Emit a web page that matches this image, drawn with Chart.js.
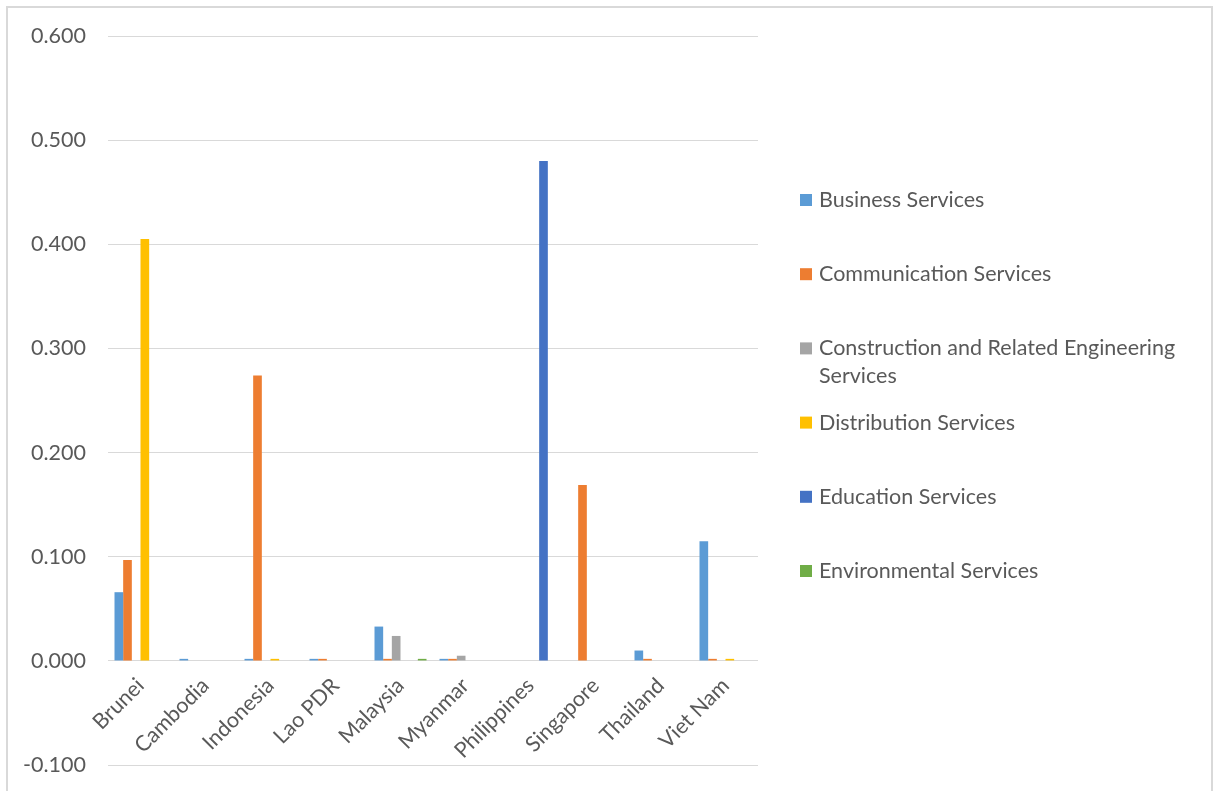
<!DOCTYPE html>
<html>
<head>
<meta charset="utf-8">
<script src="https://cdn.jsdelivr.net/npm/chart.js@4.4.1/dist/chart.umd.min.js"></script>
<style>
  html, body { margin: 0; padding: 0; background: #fff; overflow: hidden; }
  #wrap { position: relative; width: 1218px; height: 791px; overflow: hidden; }
  canvas { display: block; }
  #frame {
    position: absolute; left: 6px; top: 6px; width: 1203px; height: 800px;
    border: 2px solid #d9d9d9; border-bottom: none; pointer-events: none;
  }
</style>
</head>
<body>
<div id="wrap">
  <canvas id="myChart" width="1218" height="800"></canvas>
  <div id="frame"></div>
</div>
<script>
const countries = ['Brunei', 'Cambodia', 'Indonesia', 'Lao PDR', 'Malaysia', 'Myanmar', 'Philippines', 'Singapore', 'Thailand', 'Viet Nam'];

const business      = [0.066, 0.002, 0.002, 0.002, 0.033, 0.002, 0, 0, 0.010, 0.115];
const communication = [0.097, 0, 0.274, 0.002, 0.002, 0.002, 0, 0.169, 0.002, 0.002];
const construction  = [0, 0, 0, 0, 0.024, 0.005, 0, 0, 0, 0];
const distribution  = [0.405, 0, 0.002, 0, 0, 0, 0, 0, 0, 0.002];
const education     = [0, 0, 0, 0, 0, 0, 0.480, 0, 0, 0];
const environmental = [0, 0, 0, 0, 0.002, 0, 0, 0, 0, 0];

const seriesNames = ['Business Services', 'Communication Services', 'Construction and Related Engineering Services',
  'Distribution Services', 'Education Services', 'Environmental Services'];
const seriesColors = ['#5b9bd5', '#ed7d31', '#a5a5a5', '#ffc000', '#4472c4', '#70ad47'];

const yTicks = [-0.1, 0, 0.1, 0.2, 0.3, 0.4, 0.5, 0.6];

const FONT = 'Lato, "Open Sans", sans-serif';
const TEXT = '#595959';
const SIZE = 21.5;

const datasets = [business, communication, construction, distribution, education, environmental].map((d, i) => ({
  label: seriesNames[i],
  data: d,
  backgroundColor: seriesColors[i],
  borderWidth: 0,
  categoryPercentage: 0.8,
  barPercentage: 1.0
}));

// legend on the right, drawn by hand so the long entry can wrap
const sideLegend = {
  id: 'sideLegend',
  afterDraw(chart) {
    const ctx = chart.ctx;
    const x0 = 800, y0 = 200, step = 74.2, maxW = 380, lineH = 28;
    ctx.save();
    ctx.font = SIZE + 'px ' + FONT;
    ctx.textBaseline = 'middle';
    chart.data.datasets.forEach((ds, i) => {
      const y = y0 + i * step;
      ctx.fillStyle = ds.backgroundColor;
      ctx.fillRect(x0, y - 6, 12, 12);
      ctx.fillStyle = TEXT;
      const words = ds.label.split(' ');
      let line = '', ly = y;
      words.forEach(w => {
        const test = line ? line + ' ' + w : w;
        if (ctx.measureText(test).width > maxW && line) {
          ctx.fillText(line, x0 + 19, ly);
          line = w;
          ly += lineH;
        } else {
          line = test;
        }
      });
      ctx.fillText(line, x0 + 19, ly);
    });
    ctx.restore();
  }
};

const ctx = document.getElementById('myChart');

new Chart(ctx, {
  type: 'bar',
  data: {
    labels: countries,
    datasets: datasets
  },
  options: {
    responsive: false,
    animation: false,
    layout: { padding: { top: 36, right: 460, bottom: 0, left: 0 } },
    plugins: {
      legend: { display: false },
      tooltip: { enabled: false }
    },
    scales: {
      x: {
        position: { y: 0 },
        afterFit(scale) { scale.height = 0; },
        grid: { display: false, drawTicks: false },
        border: { display: false },
        ticks: {
          minRotation: 45,
          maxRotation: 45,
          padding: 12,
          color: TEXT,
          font: { family: FONT, size: SIZE }
        }
      },
      y: {
        min: -0.1,
        max: 0.6,
        afterFit(scale) { scale.width = 108; },
        afterBuildTicks(scale) { scale.ticks = yTicks.map(v => ({ value: v })); },
        grid: { color: '#d9d9d9', lineWidth: 1, drawTicks: false },
        border: { display: false },
        ticks: {
          padding: 22,
          color: TEXT,
          font: { family: FONT, size: SIZE },
          callback: v => v.toFixed(3)
        }
      }
    }
  },
  plugins: [sideLegend]
});
</script>
</body>
</html>
